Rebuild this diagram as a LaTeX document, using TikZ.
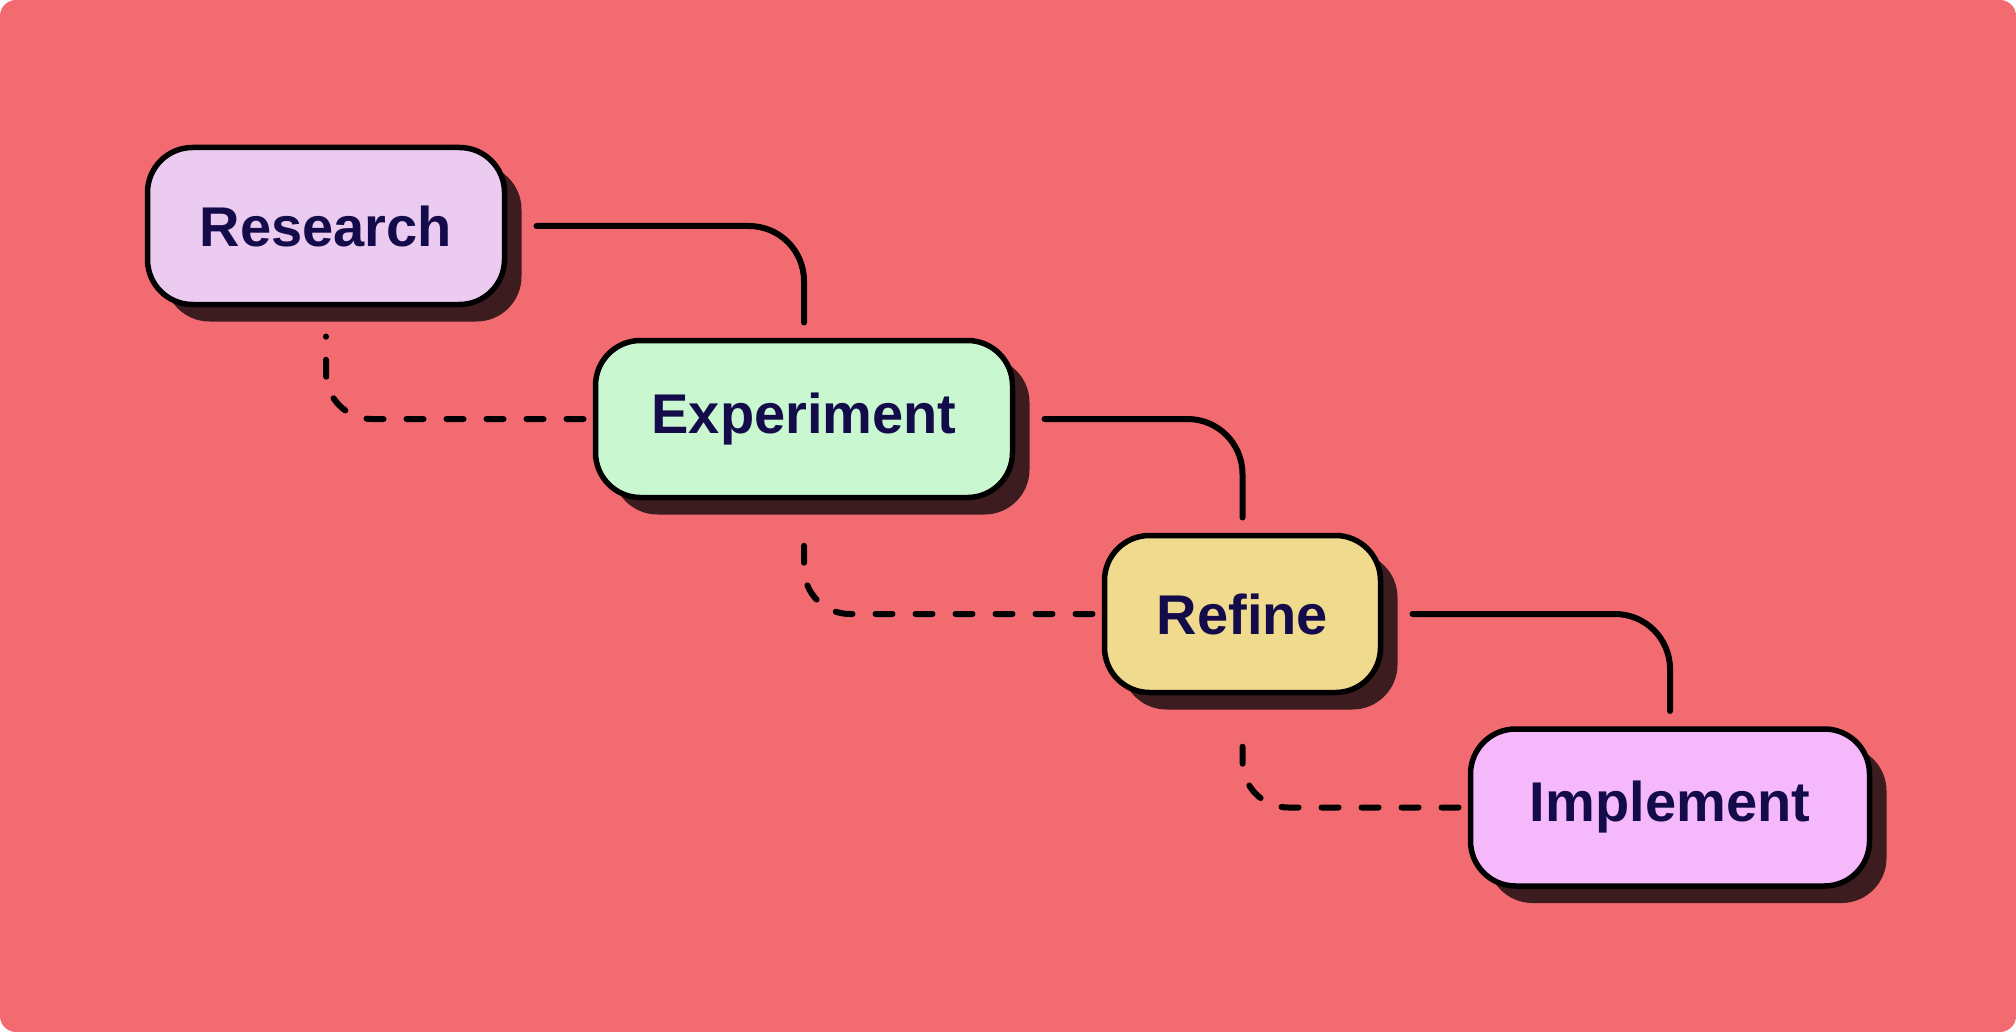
\documentclass[tikz,border=0pt]{standalone}
\usepackage{fontspec}
\setmainfont[Ligatures=NoCommon]{Liberation Sans}
\usetikzlibrary{calc}
\usetikzlibrary{shadows}
\definecolor{bg}{HTML}{F26B70}
\definecolor{shade}{HTML}{3D1C1F}
\definecolor{ink}{HTML}{140B4A}
\definecolor{lilac}{HTML}{EBCBF0}
\definecolor{mint}{HTML}{C9F7D0}
\definecolor{sand}{HTML}{F0DA8E}
\definecolor{pinky}{HTML}{F5B8FB}
\tikzset{
  stage/.style={draw=black, line width=2.75pt, rounded corners=22.5pt, outer sep=0pt,
    text=ink, font=\fontsize{28}{30}\selectfont\bfseries, minimum height=78.5pt,
    drop shadow={shadow xshift=8.5pt, shadow yshift=-8.5pt, opacity=1, fill=shade}},
  link/.style={line width=3pt, line cap=round},
  dashlink/.style={link, dash pattern=on 8.5pt off 11.5pt}
}
\newcommand{\stage}[6]{\node[stage, fill=#5, minimum width=#4] (#1) at (#2,#3) {#6};}

\begin{document}
\begin{tikzpicture}[x=0.5pt, y=-0.5pt]
        \fill[white] (0,0) rectangle (2016,1032);
        \fill[bg, rounded corners=8pt] (0,0) rectangle (2016,1032);
        \useasboundingbox (0,0) rectangle (2016,1032);

        % stages
        \stage{research}{326}{226}{178.5pt}{lilac}{Research}
        \stage{experiment}{804}{419}{208.5pt}{mint}{Experiment}
        \stage{refine}{1242.5}{614}{138pt}{sand}{Refine}
        \stage{implement}{1670}{807.5}{199.5pt}{pinky}{Implement}

        % solid links
        \draw[link, rounded corners=27.5pt] ([xshift=16pt]research.east) -| ([yshift=9pt]experiment.north);
        \draw[link, rounded corners=27.5pt] ([xshift=16pt]experiment.east) -| ([yshift=9pt]refine.north);
        \draw[link, rounded corners=27.5pt] ([xshift=16pt]refine.east) -| ([yshift=9pt]implement.north);

        % dashed links, drawn back from the next stage
        \draw[dashlink, rounded corners=23pt] ([xshift=-6pt]experiment.west) -| ([yshift=-16pt]research.south);
        \draw[dashlink, rounded corners=23pt] ([xshift=-6pt]refine.west) -| ([yshift=-16pt]experiment.south);
        \draw[dashlink, rounded corners=23pt] ([xshift=-6pt]implement.west) -| ([yshift=-16pt]refine.south);
\end{tikzpicture}
\end{document}
